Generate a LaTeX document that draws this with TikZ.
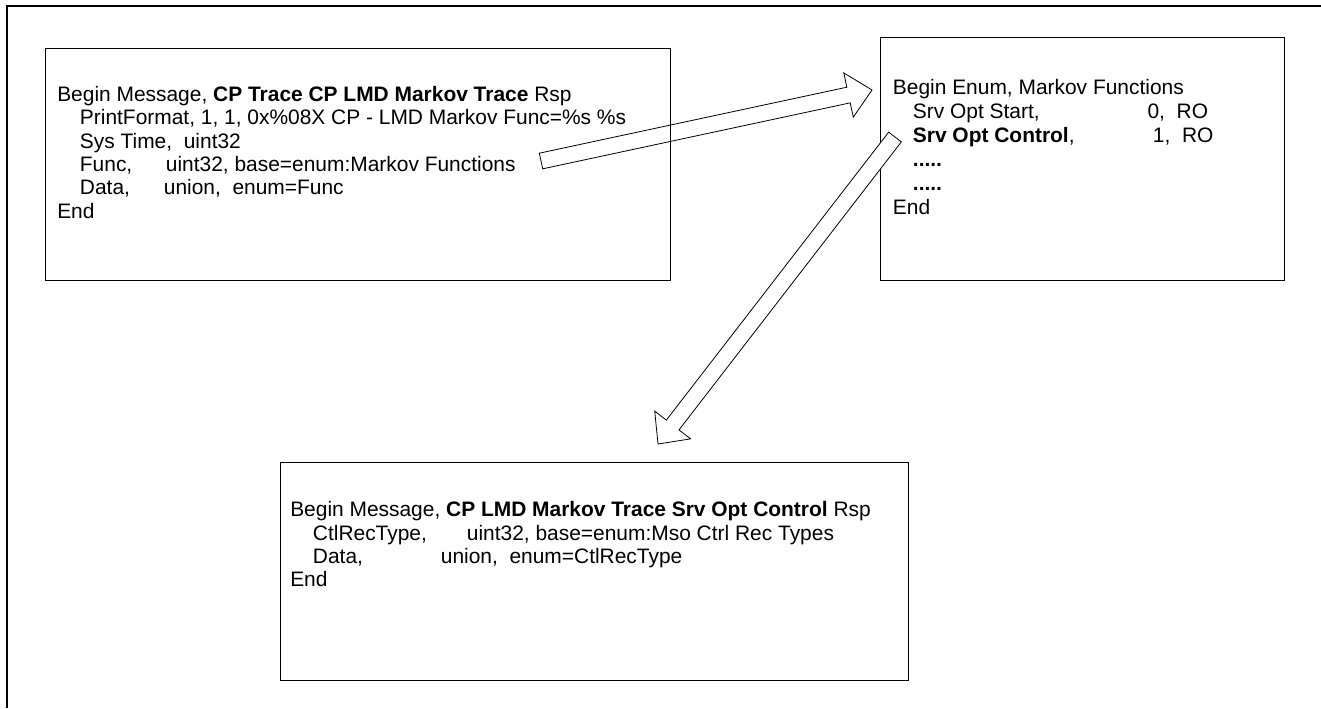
\documentclass[tikz,border=0pt]{standalone}
\usepackage{fontspec}
\setmainfont{Liberation Sans}
\usetikzlibrary{calc,positioning}

% outlined block arrow: #1 style, #2 tail, #3 tip
\newcommand{\blockarrow}[3]{%
  \coordinate (hb) at ($(#3)!18pt!(#2)$);
  \draw[#1] ($(#2)!6pt!90:(#3)$) -- ($(hb)!6pt!-90:(#2)$)
    -- ($(hb)!17pt!-90:(#2)$) -- (#3) -- ($(hb)!17pt!90:(#2)$)
    -- ($(hb)!6pt!90:(#2)$) -- ($(#2)!6pt!-90:(#3)$) -- cycle;
}

\begin{document}
\begin{tikzpicture}[x=0.75pt, y=-0.75pt,
            msgbox/.style = {draw, anchor=north west, inner sep=0pt, line width=0.6pt},
            listing/.style = {inner sep=0pt, align=left,
                font=\fontsize{15.7}{17.5}\selectfont},
            blockarr/.style = {draw, fill=white, line width=0.6pt},
            frame/.style = {line width=1.6pt}]
    \useasboundingbox (0,0) rectangle (1321,708);
    \draw[frame] (1321,6) -| (7,708);

    % arrow ends
    \coordinate (funcend) at (541,161);
    \coordinate (enumin) at (872,90);
    \coordinate (ctrlref) at (895,137);
    \coordinate (ctrlmsg) at (658,444);

    \blockarrow{blockarr}{funcend}{enumin}

    % trace message
    \node[msgbox, minimum width=468.75pt, minimum height=174pt] (tracebox) at (45,48) {};
    \node[listing, below right=28.5pt and 9pt of tracebox.north west] (tracetext) {%
        Begin Message, \textbf{CP Trace CP LMD Markov Trace} Rsp\\
        \hspace*{17pt}PrintFormat, 1, 1, 0x\%08X CP - LMD Markov Func=\%s \%s\\
        \hspace*{17pt}Sys Time,\ \ uint32\\
        \hspace*{17pt}\makebox[64.5pt][l]{Func,}uint32, base=enum:Markov Functions\\
        \hspace*{17pt}\makebox[63pt][l]{Data,}union,\ \ enum=Func\\
        End};

    % enum
    \node[msgbox, minimum width=303pt, minimum height=182.25pt] (enumbox) at (880,37) {};
    \node[listing, font=\fontsize{15.7}{18}\selectfont,
          below right=31.5pt and 9.5pt of enumbox.north west] (enumtext) {%
        Begin Enum, Markov Functions\\
        \hspace*{15pt}\makebox[176pt][l]{Srv Opt Start,}0,\ \ RO\\
        \hspace*{15pt}\makebox[180pt][l]{\textbf{Srv Opt Control},}1,\ \ RO\\
        \hspace*{15pt}\textbf{.....}\\
        \hspace*{15pt}\textbf{.....}\\
        End};

    \blockarrow{blockarr}{ctrlref}{ctrlmsg}

    % srv opt control message
    \node[msgbox, minimum width=471pt, minimum height=163.5pt] (ctrlbox) at (280,462) {};
    \node[listing, below right=29.5pt and 7.5pt of ctrlbox.north west] (ctrltext) {%
        Begin Message, \textbf{CP LMD Markov Trace Srv Opt Control} Rsp\\
        \hspace*{17pt}\makebox[115.5pt][l]{CtlRecType,}uint32, base=enum:Mso Ctrl Rec Types\\
        \hspace*{17pt}\makebox[96pt][l]{Data,}union,\ \ enum=CtlRecType\\
        End};
\end{tikzpicture}
\end{document}
